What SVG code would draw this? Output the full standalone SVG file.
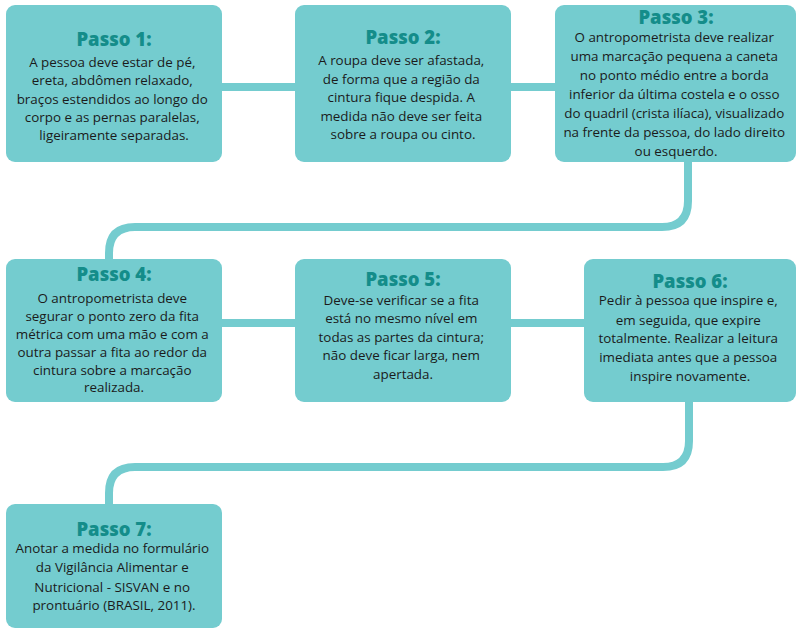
<svg xmlns="http://www.w3.org/2000/svg" width="798" height="628" viewBox="0 0 798 628">
  <style>
    .box { fill: #74cccf; }
    .link { fill: none; stroke: #74cccf; stroke-width: 8; }
    .title { font-family: "Open Sans", "Lato", sans-serif; font-weight: 800; font-size: 18.5px; fill: #148d8a; text-anchor: middle; }
    .body { font-family: "Open Sans", "Lato", sans-serif; font-size: 13.4px; fill: #1b1b1b; text-anchor: middle; }
  </style>
  <rect width="798" height="628" fill="#ffffff"/>

  <!-- connectors drawn beneath the step boxes -->
  <g id="connectors">
    <path class="link" d="M222,87 H555"/>
    <path class="link" d="M688,162 V201 Q688,227 662,227 H135 Q109,227 109,253 V259"/>
    <path class="link" d="M222,323 H584"/>
    <path class="link" d="M689,402 V441 Q689,467 663,467 H135 Q109,467 109,493 V504"/>
  </g>

  <g id="step1">
    <rect class="box" x="6" y="5" width="216" height="157" rx="9"/>
    <text class="title" x="114" y="46">Passo 1:</text>
    <text class="body" x="114">
      <tspan x="114" y="67">A pessoa deve estar de pé,</tspan>
      <tspan x="114" y="85">ereta, abdômen relaxado,</tspan>
      <tspan x="114" y="104">braços estendidos ao longo do</tspan>
      <tspan x="114" y="122">corpo e as pernas paralelas,</tspan>
      <tspan x="114" y="140">ligeiramente separadas.</tspan>
    </text>
  </g>

  <g id="step2">
    <rect class="box" x="295" y="5" width="216" height="157" rx="9"/>
    <text class="title" x="403" y="44">Passo 2:</text>
    <text class="body">
      <tspan x="403" y="65">A roupa deve ser afastada,</tspan>
      <tspan x="403" y="84">de forma que a região da</tspan>
      <tspan x="403" y="102">cintura fique despida. A</tspan>
      <tspan x="403" y="121">medida não deve ser feita</tspan>
      <tspan x="403" y="139">sobre a roupa ou cinto.</tspan>
    </text>
  </g>

  <g id="step3">
    <rect class="box" x="555" y="5" width="241" height="157" rx="9"/>
    <text class="title" x="676" y="24">Passo 3:</text>
    <text class="body">
      <tspan x="676" y="42">O antropometrista deve realizar</tspan>
      <tspan x="676" y="61">uma marcação pequena a caneta</tspan>
      <tspan x="676" y="80">no ponto médio entre a borda</tspan>
      <tspan x="676" y="99">inferior da última costela e o osso</tspan>
      <tspan x="676" y="118">do quadril (crista ilíaca), visualizado</tspan>
      <tspan x="676" y="137">na frente da pessoa, do lado direito</tspan>
      <tspan x="676" y="156">ou esquerdo.</tspan>
    </text>
  </g>

  <g id="step4">
    <rect class="box" x="6" y="259" width="216" height="143" rx="9"/>
    <text class="title" x="114" y="281">Passo 4:</text>
    <text class="body">
      <tspan x="114" y="303">O antropometrista deve</tspan>
      <tspan x="114" y="321">segurar o ponto zero da fita</tspan>
      <tspan x="114" y="339">métrica com uma mão e com a</tspan>
      <tspan x="114" y="357">outra passar a fita ao redor da</tspan>
      <tspan x="114" y="375">cintura sobre a marcação</tspan>
      <tspan x="114" y="392">realizada.</tspan>
    </text>
  </g>

  <g id="step5">
    <rect class="box" x="295" y="259" width="216" height="143" rx="9"/>
    <text class="title" x="403" y="286">Passo 5:</text>
    <text class="body">
      <tspan x="403" y="305">Deve-se verificar se a fita</tspan>
      <tspan x="403" y="323">está no mesmo nível em</tspan>
      <tspan x="403" y="342">todas as partes da cintura;</tspan>
      <tspan x="403" y="360">não deve ficar larga, nem</tspan>
      <tspan x="403" y="379">apertada.</tspan>
    </text>
  </g>

  <g id="step6">
    <rect class="box" x="584" y="259" width="212" height="143" rx="9"/>
    <text class="title" x="690" y="288">Passo 6:</text>
    <text class="body">
      <tspan x="690" y="305">Pedir à pessoa que inspire e,</tspan>
      <tspan x="690" y="325">em seguida, que expire</tspan>
      <tspan x="690" y="343">totalmente. Realizar a leitura</tspan>
      <tspan x="690" y="362">imediata antes que a pessoa</tspan>
      <tspan x="690" y="381">inspire novamente.</tspan>
    </text>
  </g>

  <g id="step7">
    <rect class="box" x="6" y="504" width="216" height="124" rx="9"/>
    <text class="title" x="114" y="536">Passo 7:</text>
    <text class="body">
      <tspan x="114" y="553">Anotar a medida no formulário</tspan>
      <tspan x="114" y="572">da Vigilância Alimentar e</tspan>
      <tspan x="114" y="592">Nutricional - SISVAN e no</tspan>
      <tspan x="114" y="610">prontuário (BRASIL, 2011).</tspan>
    </text>
  </g>
</svg>
